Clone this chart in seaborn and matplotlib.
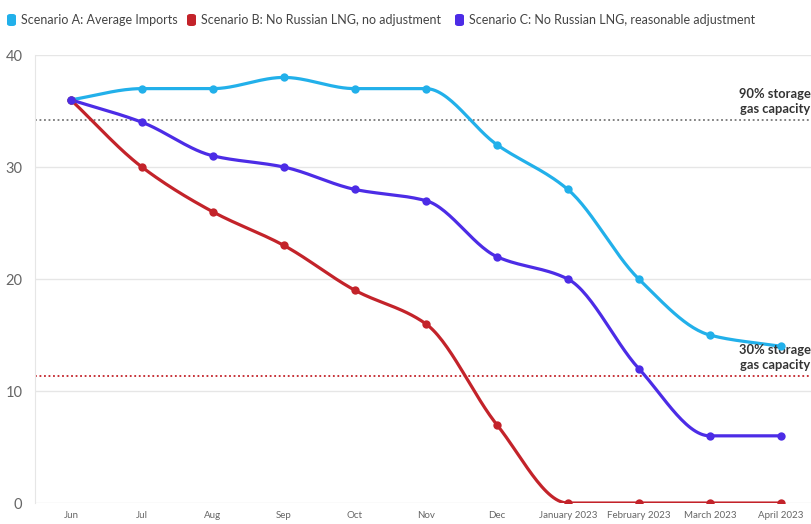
import numpy as np
import pandas as pd
import matplotlib.pyplot as plt
import seaborn as sns
from matplotlib.patches import FancyBboxPatch

months = ['Jun', 'Jul', 'Aug', 'Sep', 'Oct', 'Nov', 'Dec',
          'January 2023', 'February 2023', 'March 2023', 'April 2023']
scen_a = [36, 37, 37, 38, 37, 37, 32, 28, 20, 15, 14]
scen_b = [36, 30, 26, 23, 19, 16, 7, 0, 0, 0, 0]
scen_c = [36, 34, 31, 30, 28, 27, 22, 20, 12, 6, 6]
names = ['Scenario A: Average Imports',
         'Scenario B: No Russian LNG, no adjustment',
         'Scenario C: No Russian LNG, reasonable adjustment']
colors = ['#22b0ea', '#c3232a', '#4c2ce6']
storage90 = 34.2
storage30 = 11.35

sns.set_style('white')
plt.rcParams['font.family'] = ['Lato', 'DejaVu Sans']


def monotone(y, n=30):
    # monotone cubic (Fritsch-Carlson) so flat stretches stay flat
    y = np.asarray(y, float)
    x = np.arange(len(y), dtype=float)
    d = np.diff(y)
    m = np.zeros_like(y)
    m[0], m[-1] = d[0], d[-1]
    for i in range(1, len(y) - 1):
        if d[i - 1] * d[i] <= 0:
            m[i] = 0
        else:
            m[i] = 2 / (1 / d[i - 1] + 1 / d[i])
    xs, ys = [], []
    for i in range(len(y) - 1):
        t = np.linspace(0, 1, n, endpoint=False)
        h00 = 2 * t**3 - 3 * t**2 + 1
        h10 = t**3 - 2 * t**2 + t
        h01 = -2 * t**3 + 3 * t**2
        h11 = t**3 - t**2
        xs.append(x[i] + t)
        ys.append(h00 * y[i] + h10 * m[i] + h01 * y[i + 1] + h11 * m[i + 1])
    xs.append([x[-1]])
    ys.append([y[-1]])
    return np.concatenate(xs), np.concatenate(ys)


fig = plt.figure(figsize=(8.12, 5.24), dpi=100)
ax = fig.add_axes([0.043, 0.04, 0.957, 0.855])

for name, vals, col in zip(names, [scen_a, scen_b, scen_c], colors):
    xs, ys = monotone(vals)
    sns.lineplot(x=xs, y=ys, ax=ax, color=col, linewidth=2.3, sort=False)
    sns.scatterplot(x=np.arange(len(vals)), y=vals, ax=ax, color=col,
                    s=36, edgecolor=col, linewidth=0, zorder=5)

ax.axhline(storage90, color='#777777', linestyle=(0, (1, 1.5)), linewidth=1.3, zorder=1)
ax.axhline(storage30, color='#c3232a', linestyle=(0, (1, 1.5)), linewidth=1.3, zorder=1)
ax.text(10.42, storage90 + 0.45, '90% storage\ngas capacity', ha='right', va='bottom',
        fontsize=9.3, fontweight='bold', color='#333333', linespacing=1.3)
ax.text(10.42, storage30 + 0.45, '30% storage\ngas capacity', ha='right', va='bottom',
        fontsize=9.3, fontweight='bold', color='#333333', linespacing=1.3)

ax.set_xlim(-0.507, 10.44)
ax.set_ylim(0, 40)
ax.set_yticks([0, 10, 20, 30, 40])
ax.set_xticks(range(len(months)))
ax.set_xticklabels(months)
ax.grid(axis='y', color='#e6e6e6', linewidth=1)
ax.set_axisbelow(True)
for s in ['top', 'right', 'bottom']:
    ax.spines[s].set_visible(False)
ax.spines['left'].set_color('#e6e6e6')
ax.tick_params(axis='x', length=4, color='#dddddd', labelsize=7, labelcolor='#666666', pad=2)
ax.tick_params(axis='y', length=5, color='#e6e6e6', labelsize=10.5, labelcolor='#666666', pad=4)
ax.set_xlabel('')
ax.set_ylabel('')

# legend across the top
lx = [7, 187, 455]
for x0, name, col in zip(lx, names, colors):
    fig.patches.append(FancyBboxPatch((x0 / 812, 1 - 26 / 524), 9 / 812, 12 / 524,
                                      boxstyle='round,pad=0,rounding_size=0.004',
                                      transform=fig.transFigure, facecolor=col,
                                      edgecolor='none'))
    fig.text((x0 + 14) / 812, 1 - 20 / 524, name, ha='left', va='center',
             fontsize=9, color='#444444')

fig.savefig('out.png', dpi=100)
